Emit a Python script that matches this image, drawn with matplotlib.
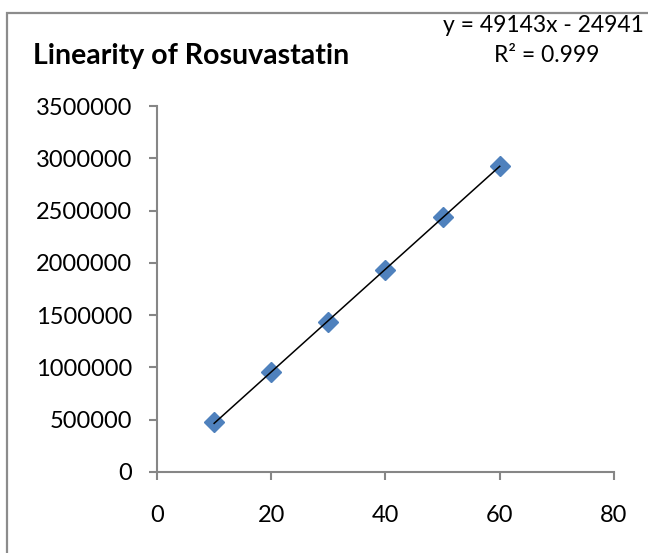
import numpy as np
import matplotlib
matplotlib.use("Agg")
from matplotlib import pyplot as plt
from matplotlib.patches import Rectangle

"""Data read off the chart"""
conc = [10, 20, 30, 40, 50, 60]
area = [478000, 952000, 1437000, 1934000, 2434000, 2931000]
x_ticks = [0, 20, 40, 60, 80]
y_ticks = [0, 500000, 1000000, 1500000, 2000000, 2500000, 3000000, 3500000]
title = 'Linearity of Rosuvastatin'
eq_text = 'y = 49143x - 24941'
r2_text = 'R² = 0.999'

plt.rcParams['font.family'] = ['Lato', 'DejaVu Sans']
axis_grey = '#868686'

fig = plt.figure(figsize=(6.48, 5.53), dpi=100)
ax = fig.add_axes([0.2423, 0.1465, 0.7052, 0.6618])

"""Chart border (cropped on right and bottom like the original)"""
fig.patches.append(Rectangle((7 / 648, -0.05), 1.2, 1 - 13 / 553 + 0.05,
                             transform=fig.transFigure, fill=False,
                             edgecolor='#8c8c8c', linewidth=1.6))

"""Points and linear trendline"""
ax.plot(conc, area, 'D', color='#4F81BD', markersize=10, zorder=3)
slope, icpt = np.polyfit(conc, area, 1)
xs = np.array([min(conc), max(conc)])
ax.plot(xs, slope * xs + icpt, color='black', linewidth=1.1, zorder=4)

ax.set_xlim(0, 80)
ax.set_ylim(0, 3500000)
ax.set_xticks(x_ticks)
ax.set_yticks(y_ticks)
ax.set_xticklabels([str(t) for t in x_ticks])
ax.set_yticklabels([str(t) for t in y_ticks])

for side in ['top', 'right']:
    ax.spines[side].set_visible(False)
for side in ['left', 'bottom']:
    ax.spines[side].set_color(axis_grey)
    ax.spines[side].set_linewidth(1.5)
ax.tick_params(direction='out', length=6, width=1.5, color=axis_grey,
               labelsize=17, labelcolor='black')
ax.tick_params(axis='x', pad=18)
ax.tick_params(axis='y', pad=12)

fig.text(33 / 648, 1 - 56 / 553, title, fontsize=20.5, fontweight='bold',
         ha='left', va='center')
fig.text(543 / 648, 1 - 26 / 553, eq_text, fontsize=16.5, ha='center', va='center')
fig.text(547 / 648, 1 - 55 / 553, r2_text, fontsize=16.5, ha='center', va='center')

fig.savefig('out.png', dpi=100)
